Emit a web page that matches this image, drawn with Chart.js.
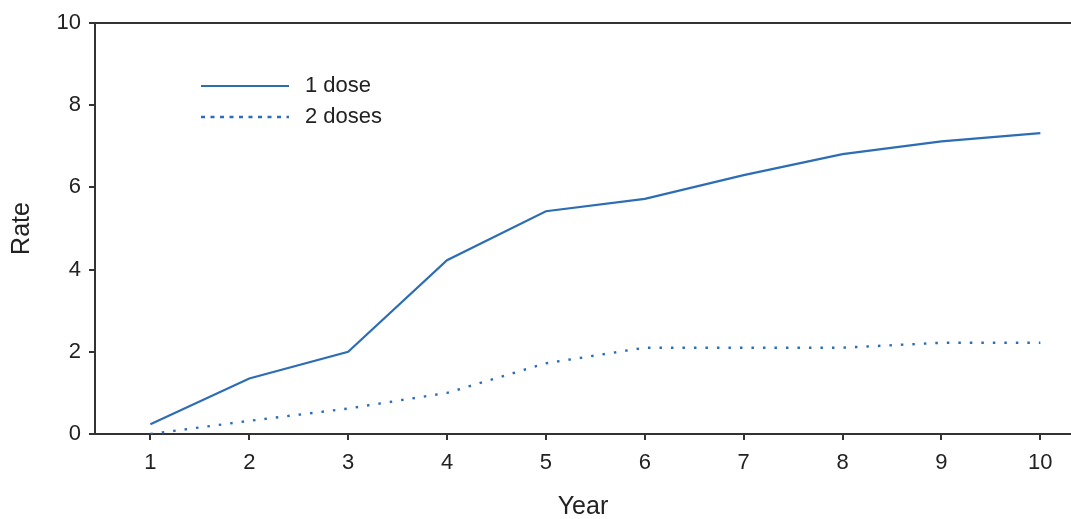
<!DOCTYPE html>
<html><head><meta charset="utf-8">
<script src="https://cdn.jsdelivr.net/npm/chart.js@4"></script>
<style>html,body{margin:0;padding:0;background:#fff;}#wrap{width:1071px;height:519px;}</style>
</head><body><div id="wrap"><canvas id="c" width="1071" height="519"></canvas></div>
<script>
const years = [1,2,3,4,5,6,7,8,9,10];
const oneDose = [0.24,1.35,2.0,4.23,5.42,5.72,6.3,6.81,7.12,7.32];
const twoDoses = [0.0,0.32,0.62,1.0,1.72,2.1,2.1,2.1,2.22,2.22];
const yTicks = [0,2,4,6,8,10];
const seriesLabels = ['1 dose','2 doses'];
const blue = '#2d6db4';
const FONT = '"Liberation Sans", Arial, sans-serif';

const legendPlugin = {
  id:'inlegend',
  afterDraw(chart){
    const ctx = chart.ctx;
    ctx.save();
    ctx.strokeStyle = '#333'; ctx.lineWidth = 2;
    ctx.beginPath(); ctx.moveTo(chart.chartArea.left-1, chart.chartArea.top); ctx.lineTo(chart.chartArea.right, chart.chartArea.top); ctx.stroke();
    const items = chart.data.datasets;
    const x0 = 201, x1 = 289, ys = [86, 117];
    items.forEach((ds,i)=>{
      ctx.strokeStyle = ds.borderColor; ctx.lineWidth = ds.borderWidth;
      ctx.setLineDash(ds.borderDash ? [4,5.5] : []);
      ctx.beginPath(); ctx.moveTo(x0, ys[i]); ctx.lineTo(x1, ys[i]); ctx.stroke();
      ctx.setLineDash([]);
      ctx.fillStyle = '#222'; ctx.font = '22px ' + FONT; ctx.textBaseline='middle'; ctx.textAlign='left';
      ctx.fillText(ds.label, 305, ys[i]);
    });
    ctx.restore();
  }
};

new Chart(document.getElementById('c'), {
  type:'line',
  data:{
    datasets:[
      {label:seriesLabels[0], data: years.map((x,i)=>({x, y:oneDose[i]})), borderColor:blue, borderWidth:2.2, pointRadius:0, tension:0, fill:false},
      {label:seriesLabels[1], data: years.map((x,i)=>({x, y:twoDoses[i]})), borderColor:blue, borderWidth:2.4, borderDash:[2.5,9], pointRadius:0, tension:0, fill:false}
    ]
  },
  options:{
    responsive:false, animation:false,
    layout:{padding:{top:23,right:0,left:0,bottom:0}},
    plugins:{legend:{display:false}, tooltip:{enabled:false}},
    scales:{
      x:{type:'linear', min:0.44, max:10.31,
        afterBuildTicks(s){ s.ticks = years.map(v=>({value:v})); },
        afterFit(s){ s.height = 85; },
        grid:{display:true, drawOnChartArea:false, drawTicks:true, tickLength:6, color:'#333', lineWidth:2},
        border:{display:true, color:'#333', width:2},
        ticks:{color:'#222', font:{size:22, family:FONT}, padding:10, autoSkip:false, maxRotation:0},
        title:{display:true, text:'Year', color:'#222', font:{size:25, family:FONT, lineHeight:1}, padding:{top:0, bottom:-1}}
      },
      y:{min:0, max:10,
        afterBuildTicks(s){ s.ticks = yTicks.map(v=>({value:v})); },
        afterFit(s){ s.width = 95; },
        grid:{display:true, drawOnChartArea:false, drawTicks:true, tickLength:6, color:'#333', lineWidth:2},
        border:{display:true, color:'#333', width:2},
        ticks:{color:'#222', font:{size:22, family:FONT}, padding:8},
        title:{display:true, text:'Rate', color:'#222', font:{size:25, family:FONT, lineHeight:1}, padding:{top:10, bottom:0}}
      }
    }
  },
  plugins:[legendPlugin]
});
</script></body></html>
